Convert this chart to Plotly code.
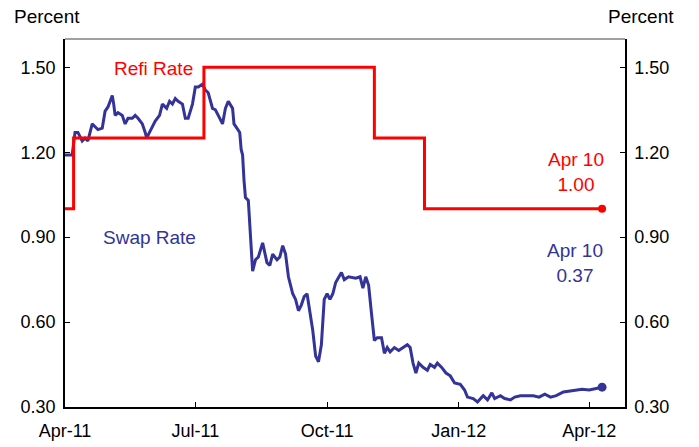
import plotly.graph_objects as go

# ECB main refinancing rate (step changes) and swap rate, percent
refi_dates = ["2011-04-01", "2011-04-07", "2011-07-07", "2011-11-03", "2011-12-08", "2012-04-10"]
refi_values = [1.00, 1.25, 1.50, 1.25, 1.00, 1.00]

swap_dates = [
    "2011-04-01", "2011-04-04", "2011-04-06", "2011-04-08", "2011-04-10", "2011-04-13",
    "2011-04-15", "2011-04-17", "2011-04-20", "2011-04-22", "2011-04-24", "2011-04-27",
    "2011-04-29", "2011-05-01", "2011-05-04", "2011-05-05", "2011-05-06", "2011-05-08",
    "2011-05-11", "2011-05-13", "2011-05-15", "2011-05-18", "2011-05-20", "2011-05-22",
    "2011-05-25", "2011-05-27", "2011-05-28", "2011-05-30", "2011-06-03", "2011-06-06",
    "2011-06-08", "2011-06-11", "2011-06-13", "2011-06-15", "2011-06-17", "2011-06-19",
    "2011-06-22", "2011-06-24", "2011-06-26", "2011-06-29", "2011-07-01", "2011-07-03",
    "2011-07-06", "2011-07-08", "2011-07-10", "2011-07-13", "2011-07-15", "2011-07-17",
    "2011-07-20", "2011-07-22", "2011-07-24", "2011-07-27", "2011-07-28", "2011-07-30",
    "2011-08-01", "2011-08-02", "2011-08-03", "2011-08-04", "2011-08-05", "2011-08-07",
    "2011-08-09", "2011-08-10", "2011-08-12", "2011-08-14", "2011-08-17", "2011-08-19",
    "2011-08-20", "2011-08-22", "2011-08-24", "2011-08-27", "2011-08-29", "2011-08-31",
    "2011-09-02", "2011-09-04", "2011-09-07", "2011-09-09", "2011-09-11", "2011-09-13",
    "2011-09-15", "2011-09-17", "2011-09-19", "2011-09-21", "2011-09-23", "2011-09-25",
    "2011-09-27", "2011-09-29", "2011-10-01", "2011-10-03", "2011-10-05", "2011-10-07",
    "2011-10-11", "2011-10-13", "2011-10-16", "2011-10-21", "2011-10-24", "2011-10-26",
    "2011-10-28", "2011-10-30", "2011-11-01", "2011-11-03", "2011-11-05", "2011-11-08",
    "2011-11-10", "2011-11-12", "2011-11-14", "2011-11-17", "2011-11-20", "2011-11-23",
    "2011-11-26", "2011-11-28", "2011-11-30", "2011-12-02", "2011-12-04", "2011-12-07",
    "2011-12-10", "2011-12-12", "2011-12-15", "2011-12-17", "2011-12-20", "2011-12-23",
    "2011-12-26", "2011-12-29", "2012-01-02", "2012-01-05", "2012-01-07", "2012-01-11",
    "2012-01-14", "2012-01-18", "2012-01-21", "2012-01-24", "2012-01-26", "2012-01-30",
    "2012-02-02", "2012-02-06", "2012-02-09", "2012-02-13", "2012-02-17", "2012-02-22",
    "2012-02-26", "2012-03-01", "2012-03-05", "2012-03-09", "2012-03-14", "2012-03-18",
    "2012-03-23", "2012-03-27", "2012-04-01", "2012-04-06", "2012-04-10",
]
swap_values = [
    1.19, 1.19, 1.19, 1.27, 1.27, 1.24,
    1.25, 1.24, 1.30, 1.29, 1.28, 1.285,
    1.345, 1.36, 1.40, 1.37, 1.33, 1.34,
    1.33, 1.30, 1.32, 1.32, 1.33, 1.32,
    1.30, 1.27, 1.25, 1.27, 1.31, 1.33,
    1.37, 1.355, 1.38, 1.37, 1.39, 1.38,
    1.37, 1.32, 1.32, 1.37, 1.43, 1.43,
    1.44, 1.42, 1.41, 1.355, 1.35, 1.33,
    1.30, 1.355, 1.38, 1.355, 1.30, 1.285,
    1.27, 1.21, 1.19, 1.10, 1.04, 1.03,
    0.88, 0.78, 0.82, 0.83, 0.88, 0.84,
    0.81, 0.80, 0.84, 0.82, 0.83, 0.87,
    0.84, 0.76, 0.70, 0.68, 0.64, 0.66,
    0.69, 0.70, 0.64, 0.57, 0.48, 0.46,
    0.52, 0.68, 0.70, 0.68, 0.70, 0.74,
    0.775, 0.75, 0.76, 0.755, 0.76, 0.72,
    0.76, 0.73, 0.63, 0.535, 0.545, 0.545,
    0.49, 0.51, 0.495, 0.51, 0.50, 0.51,
    0.52, 0.51, 0.455, 0.42, 0.455, 0.44,
    0.43, 0.45, 0.44, 0.455, 0.44, 0.42,
    0.41, 0.385, 0.38, 0.36, 0.335, 0.33,
    0.318, 0.34, 0.325, 0.35, 0.33, 0.34,
    0.33, 0.325, 0.335, 0.34, 0.34, 0.34,
    0.335, 0.345, 0.335, 0.34, 0.353, 0.356,
    0.36, 0.363, 0.36, 0.367, 0.37,
]

tick_dates = ["2011-04-01", "2011-07-01", "2011-10-01", "2012-01-01", "2012-04-01"]
tick_labels = ["Apr-11", "Jul-11", "Oct-11", "Jan-12", "Apr-12"]
y_ticks = [0.30, 0.60, 0.90, 1.20, 1.50]

RED = "#FF0000"
NAVY = "#333399"
FONT = "Liberation Sans, Arial, sans-serif"

fig = go.Figure()

fig.add_trace(go.Scatter(
    x=swap_dates, y=swap_values, mode="lines",
    line=dict(color=NAVY, width=3), showlegend=False, hoverinfo="skip",
))
fig.add_trace(go.Scatter(
    x=refi_dates, y=refi_values, mode="lines",
    line=dict(color=RED, width=3, shape="hv"), showlegend=False, hoverinfo="skip",
))
# end-point markers
fig.add_trace(go.Scatter(
    x=[swap_dates[-1]], y=[swap_values[-1]], mode="markers",
    marker=dict(color=NAVY, size=9), showlegend=False, hoverinfo="skip",
))
fig.add_trace(go.Scatter(
    x=[refi_dates[-1]], y=[refi_values[-1]], mode="markers",
    marker=dict(color=RED, size=8), showlegend=False, hoverinfo="skip",
))
# invisible trace so the right-hand axis is drawn
fig.add_trace(go.Scatter(
    x=[refi_dates[0]], y=[refi_values[0]], yaxis="y2", mode="markers",
    marker=dict(opacity=0), showlegend=False, hoverinfo="skip",
))

y_range = [0.30, 1.60]
x_range = ["2011-04-01", "2012-04-26"]

axis_font = dict(family=FONT, size=18, color="#000000")

fig.update_layout(
    width=699, height=447,
    margin=dict(l=65, r=74, t=39, b=40),
    paper_bgcolor="white", plot_bgcolor="white",
    font=dict(family=FONT),
    xaxis=dict(
        range=x_range, type="date", automargin=False,
        tickvals=tick_dates, ticktext=tick_labels,
        ticks="inside", ticklen=5, tickcolor="#000000", tickwidth=1,
        showline=True, linecolor="#000000", linewidth=2,
        showgrid=False, zeroline=False,
        tickfont=axis_font, ticklabelstandoff=6,
    ),
    yaxis=dict(
        range=y_range, tickvals=y_ticks, tickformat=".2f", automargin=False,
        ticks="inside", ticklen=5, tickcolor="#000000", tickwidth=1,
        showline=True, linecolor="#000000", linewidth=1.5,
        showgrid=False, zeroline=False,
        tickfont=axis_font, ticklabelstandoff=4,
    ),
    yaxis2=dict(
        range=y_range, tickvals=y_ticks, tickformat=".2f", automargin=False,
        overlaying="y", side="right",
        ticks="inside", ticklen=5, tickcolor="#000000", tickwidth=1,
        showline=True, linecolor="#000000", linewidth=1.5,
        showgrid=False, zeroline=False,
        tickfont=axis_font, ticklabelstandoff=4,
    ),
)

# grey top border of the plot frame
fig.add_shape(type="line", xref="paper", yref="paper", x0=0, x1=1, y0=1, y1=1,
              line=dict(color="#808080", width=1.5))

ann_font = 19
annotations = [
    dict(x="2011-06-02", y=1.495, text="Refi Rate", color=RED),
    dict(x="2011-05-30", y=0.90, text="Swap Rate", color=NAVY),
    dict(x="2012-03-23", y=1.13, text="Apr 10<br>%.2f" % refi_values[-1], color=RED),
    dict(x="2012-03-22", y=0.81, text="Apr 10<br>%.2f" % swap_values[-1], color=NAVY),
]
for a in annotations:
    fig.add_annotation(
        x=a["x"], y=a["y"], xref="x", yref="y", text=a["text"], showarrow=False,
        xanchor="center", yanchor="middle", align="center",
        font=dict(family=FONT, size=ann_font, color=a["color"]),
    )

for px, label in [(-0.032, "Percent"), (1.029, "Percent")]:
    fig.add_annotation(
        x=px, y=1.06, xref="paper", yref="paper", text=label, showarrow=False,
        xanchor="center", yanchor="middle",
        font=dict(family=FONT, size=19, color="#000000"),
    )

fig.write_html("out.html")
